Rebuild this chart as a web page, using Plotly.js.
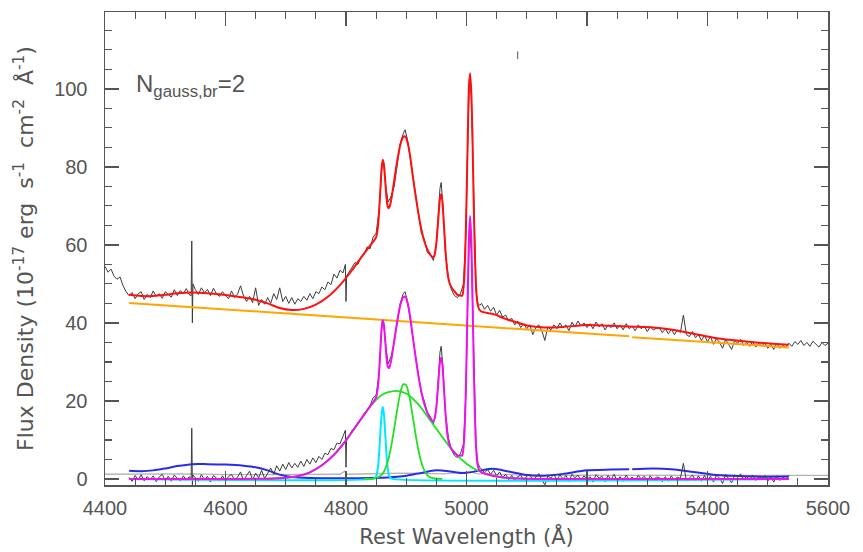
<!DOCTYPE html>
<html>
<head>
<meta charset="utf-8">
<script src="https://cdn.plot.ly/plotly-3.0.1.min.js"></script>
<style>html,body{margin:0;padding:0;background:#fff;}#chart{width:863px;height:552px;}</style>
</head>
<body>
<div id="chart"></div>
<script>
// ---- observed spectrum ----
const obsWl = [4400,4405,4410,4415,4420,4425,4430,4435,4440,4445,4450,4455,4460,4465,4470,4475,4480,4485,4490,4495,4500,4505,4510,4515,4520,4525,4530,4535,4540,4543,4544,4545,4546,4550,4555,4560,4565,4570,4575,4580,4585,4590,4595,4600,4605,4610,4615,4620,4625,4630,4635,4640,4645,4650,4655,4660,4665,4670,4675,4680,4685,4690,4695,4700,4705,4710,4715,4720,4725,4730,4735,4740,4745,4750,4755,4760,4765,4770,4775,4780,4785,4790,4795,4799,4800,4801,4805,4810,4815,4820,4825,4830,4835,4840,4845,4850,4855,4860,4863,4866,4870,4875,4880,4885,4890,4895,4898,4902,4906,4910,4915,4920,4925,4930,4935,4940,4945,4950,4953,4956,4958,4961,4965,4970,4975,4980,4985,4990,4995,4999,5002,5005,5008,5010,5012,5014,5016,5019,5022,5025,5030,5035,5040,5045,5050,5055,5060,5065,5070,5075,5080,5085,5090,5095,5100,5105,5110,5115,5120,5125,5130,5135,5140,5145,5150,5155,5160,5165,5170,5175,5180,5185,5190,5195,5200,5205,5210,5215,5220,5225,5230,5235,5240,5245,5250,5255,5260,5265,5270,5275,5280,5285,5290,5295,5300,5305,5310,5315,5320,5325,5330,5335,5340,5345,5350,5355,5360,5365,5370,5375,5380,5385,5390,5395,5400,5405,5410,5415,5420,5425,5430,5435,5440,5445,5450,5455,5460,5465,5470,5475,5480,5485,5490,5495,5500,5505,5510,5515,5520,5525,5530,5535,5540,5545,5550,5555,5560,5565,5570,5575,5580,5585,5590,5595,5600];
const obsFlux = [54.5,53.0,53.8,52.0,51.2,51.8,49.5,48.0,47.0,47.8,46.2,47.5,48.0,46.0,47.3,46.5,48.2,46.8,47.5,46.3,48.0,47.2,46.6,48.5,47.0,48.3,47.5,48.8,47.2,47.0,61.0,40.0,50.0,48.5,47.3,49.0,47.8,48.6,47.0,48.9,47.5,46.8,48.0,47.0,46.2,48.2,46.5,47.4,49.5,46.9,45.5,46.8,45.2,49.0,44.5,46.0,44.8,46.5,45.0,47.5,46.0,49.0,45.5,46.8,45.0,46.5,44.8,46.2,45.5,46.8,45.8,47.5,46.2,48.0,47.5,49.2,48.5,50.5,49.8,52.5,51.5,53.5,52.8,55.0,45.5,52.0,53.0,54.0,55.5,55.0,57.0,57.5,59.5,59.0,62.0,63.0,69.0,81.0,80.0,75.0,71.0,72.5,75.0,80.5,86.0,88.5,89.5,87.0,83.0,78.5,73.0,68.0,63.0,61.5,58.0,57.5,56.0,60.0,67.0,74.5,76.0,70.0,58.0,51.5,48.5,47.0,46.5,47.5,50.0,63.0,86.0,103.0,98.0,86.0,70.0,57.0,48.0,45.0,44.5,45.0,43.5,44.5,43.0,44.0,42.0,43.2,41.5,42.0,40.5,41.2,39.5,40.5,38.8,39.8,38.5,39.5,37.0,38.8,39.5,38.0,35.5,39.0,38.2,39.5,38.5,40.0,38.8,39.5,38.0,40.2,39.0,40.5,39.2,40.0,38.8,39.8,38.5,40.2,39.0,39.8,38.2,39.5,38.8,40.0,38.5,39.5,38.2,39.8,38.5,39.2,38.0,39.5,38.5,39.2,37.8,39.0,38.2,38.6,38.8,37.5,38.5,37.2,38.4,37.0,38.2,37.5,42.0,37.0,36.5,37.8,36.2,37.0,35.5,36.8,35.2,36.5,34.5,36.0,35.0,33.5,35.8,34.5,33.2,35.5,34.8,35.8,34.2,35.0,34.0,35.2,33.8,34.8,34.0,35.0,33.5,34.5,33.2,34.8,33.5,34.2,33.8,34.8,34.0,35.2,34.5,35.5,34.2,35.0,34.0,35.3,34.5,33.8,35.0,34.2,34.8];

// ---- error spectrum ----
const errWl = [4400,4440,4500,4545,4600,4700,4790,4798,4802,4860,4900,4960,5006,5020,5100,5200,5300,5400,5500,5600];
const errFlux = [1.2,1.2,1.15,1.3,1.1,1.1,1.2,2.0,1.2,1.4,1.5,1.3,1.8,1.3,1.0,0.95,0.95,0.9,0.9,0.9];

// ---- continuum (power law) ----
const contWl = [4440,5270,null,5275,5535];
const contFlux = [45.1,36.55,null,36.35,33.7];

// ---- Fe II template ----
const feWl = [4440,4460,4480,4500,4520,4545,4570,4600,4630,4650,4670,4690,4710,4740,4780,4820,4860,4890,4920,4950,4970,4995,5020,5044,5070,5100,5130,5160,5200,5240,5270,null,5275,5310,5345,5380,5410,5440,5480,5535];
const feFlux = [2.1,2.0,2.2,2.7,3.3,3.8,3.8,3.7,3.4,3.0,2.2,1.1,0.5,0.25,0.2,0.2,0.3,0.6,1.4,2.2,2.0,1.5,2.1,2.6,1.9,1.0,0.85,1.3,2.2,2.4,2.5,null,2.5,2.7,2.4,1.7,1.1,0.8,0.6,0.6];

// ---- total model ----
const totWl = [4440,4460,4480,4500,4520,4545,4570,4600,4630,4650,4670,4690,4710,4730,4750,4770,4790,4810,4830,4840,4845,4850,4853,4855,4857,4859,4861,4863,4865,4867,4869,4871,4873,4876,4880,4885,4890,4895,4899,4903,4907,4911,4915,4920,4925,4930,4935,4940,4944,4947,4950,4953,4956,4958,4960,4963,4966,4969,4972,4976,4980,4985,4990,4993,4996,4999,5002,5004,5006,5008,5010,5012,5014,5016,5018,5021,5025,5030,5040,5050,5060,5080,5100,5130,5160,5200,5240,5270,5310,5345,5380,5410,5440,5480,5535];
const totFlux = [47.2,46.9,46.9,47.2,47.6,47.8,47.6,47.15,46.5,45.95,45.0,43.8,43.3,43.6,44.7,46.7,49.7,53.5,57.8,59.8,60.8,62.0,64.7,68.7,74.1,79.4,81.8,80.5,76.75,72.5,70.0,69.4,70.05,72.4,76.5,81.5,85.6,87.7,87.7,85.7,82.2,77.5,73.2,68.2,64.05,60.95,58.85,57.45,56.8,57.4,60.55,66.2,71.9,73.0,71.0,63.9,56.7,52.25,50.1,48.9,48.1,47.2,47.0,46.95,50.8,64.1,87.0,100.5,104.0,99.0,87.2,70.4,57.1,48.9,45.15,43.5,42.9,42.7,42.4,42.0,41.3,40.3,39.35,38.84,38.98,39.47,39.26,39.05,38.84,38.18,37.12,36.21,35.6,34.99,34.42];

// ---- emission-line model (sum of lines) ----
const lineWl = [4440,4600,4660,4680,4700,4720,4740,4760,4780,4800,4820,4840,4845,4850,4853,4855,4857,4859,4861,4863,4865,4867,4869,4871,4873,4876,4880,4885,4890,4895,4899,4903,4907,4911,4915,4920,4925,4930,4935,4940,4944,4947,4950,4953,4956,4958,4960,4963,4966,4969,4972,4976,4980,4985,4990,4993,4996,4999,5002,5004,5006,5008,5010,5012,5014,5016,5018,5021,5025,5030,5040,5060,5080,5100,5130,5535];
const lineFlux = [0,0,0.04,0.12,0.3,0.75,1.7,3.5,6.2,9.9,14.3,18.6,19.6,20.9,23.6,27.6,33.0,38.3,40.7,39.4,35.7,31.5,29.0,28.4,29.0,31.3,35.4,40.4,44.5,46.6,46.6,44.6,41.0,36.2,31.8,26.6,22.4,19.2,17.0,15.5,14.8,15.4,18.5,24.2,30.0,31.1,29.2,22.1,15.0,10.6,8.6,7.5,6.8,6.0,6.0,6.0,9.9,23.2,46.8,61.5,67.4,61.2,46.2,29.3,16.0,7.8,4.0,2.3,1.7,1.4,0.95,0.4,0.15,0.05,0,0];

// ---- line-only spectrum (observed minus continuum) ----
const resWl = [4440,4445,4450,4455,4460,4465,4470,4475,4480,4485,4490,4495,4500,4505,4510,4515,4520,4525,4530,4535,4540,4543,4544,4545,4546,4550,4555,4560,4565,4570,4575,4580,4585,4590,4595,4600,4605,4610,4615,4620,4625,4630,4635,4640,4645,4650,4655,4660,4665,4670,4675,4680,4685,4690,4695,4700,4705,4710,4715,4720,4725,4730,4735,4740,4745,4750,4755,4760,4765,4770,4775,4780,4785,4790,4795,4799,4800,4801,4805,4810,4815,4820,4825,4830,4835,4840,4845,4850,4855,4860,4863,4866,4870,4875,4880,4885,4890,4895,4898,4902,4906,4910,4915,4920,4925,4930,4935,4940,4945,4950,4953,4956,4958,4961,4965,4970,4975,4980,4985,4990,4995,4999,5002,5005,5008,5010,5012,5014,5016,5019,5022,5025,5030,5035,5040,5045,5050,5055,5060,5065,5070,5075,5080,5085,5090,5095,5100,5105,5110,5115,5120,5125,5130,5135,5140,5145,5150,5155,5160,5165,5170,5175,5180,5185,5190,5195,5200,5205,5210,5215,5220,5225,5230,5235,5240,5245,5250,5255,5260,5265,5270,5275,5280,5285,5290,5295,5300,5305,5310,5315,5320,5325,5330,5335,5340,5345,5350,5355,5360,5365,5370,5375,5380,5385,5390,5395,5400,5405,5410,5415,5420,5425,5430,5435,5440,5445,5450,5455,5460,5465,5470,5475,5480,5485,5490,5495,5500,5505,5510,5515,5520,5525,5530,5535];
const resFlux = [0.4,-0.6,0.9,-0.3,1.1,-0.5,0.6,-0.2,0.8,-0.7,0.5,1.2,-0.4,0.7,-0.6,1.0,0.2,-0.5,0.8,-0.3,0.6,-0.2,13.0,-1.5,1.0,0.3,-0.6,1.1,-0.2,0.7,-0.8,0.9,0.1,-0.5,0.8,-0.4,0.6,1.2,-0.3,0.5,1.8,-0.5,0.9,2.0,-0.2,1.5,0.3,2.2,0.1,1.6,2.8,1.2,3.4,2.0,3.8,2.4,4.2,2.8,4.0,3.0,4.6,3.2,5.0,3.8,5.4,4.2,5.8,5.0,6.6,6.2,7.8,7.5,9.2,9.0,11.0,12.5,3.0,10.5,10.8,12.5,13.0,14.5,15.2,16.8,17.5,18.8,20.8,21.5,27.0,40.5,39.0,34.0,29.5,31.5,35.0,39.5,45.0,47.5,48.0,45.5,42.0,37.5,32.0,27.0,22.0,20.0,17.0,16.0,14.0,18.0,25.5,32.5,34.0,28.5,17.0,10.5,7.5,6.0,5.5,6.5,9.0,22.0,45.0,66.0,58.0,45.0,30.0,16.5,8.0,4.0,3.0,2.5,1.6,2.4,1.2,2.2,0.8,1.8,0.4,1.2,-0.2,0.9,-0.5,0.6,1.0,-0.3,0.7,1.2,-0.4,0.5,1.4,-0.2,-1.5,0.8,0.2,1.3,-0.3,1.1,0.0,0.9,-0.6,1.2,0.3,1.0,-0.4,0.8,-0.2,0.6,-0.8,1.1,0.2,0.7,-0.7,0.9,-0.1,1.2,-0.5,0.6,-0.6,1.0,-0.2,0.5,-0.5,0.9,0.0,0.7,-0.6,0.8,-0.3,0.5,0.4,-0.7,0.6,-0.6,0.8,-0.5,0.5,0.1,4.0,-0.5,0.3,1.0,-0.4,0.8,-0.6,0.9,-0.3,0.7,-0.8,1.0,0.2,-1.2,1.2,0.0,-1.0,1.0,0.4,1.3,-0.2,0.7,-0.3,1.0,-0.4,0.6,0.1,0.9,-0.6,0.5,-0.8,0.8,-0.4,0.4,0.0,0.9];

// ---- broad H-beta gaussians ----
const br1Wl = [4660,4680,4700,4720,4740,4760,4780,4800,4820,4840,4860,4884,4900,4920,4940,4960,4980,5000,5020,5040,5060,5080,5100,5120,5140];
const br1Flux = [0.04,0.12,0.3,0.75,1.7,3.5,6.2,9.9,14.3,18.6,21.6,22.6,21.9,19.1,15.0,10.7,6.8,3.9,2.04,0.95,0.4,0.15,0.05,0.02,0];
const br2Wl = [4830,4840,4850,4860,4865,4870,4875,4880,4885,4890,4895,4900,4905,4910,4915,4920,4925,4930,4935,4940,4950,4960];
const br2Flux = [0,0.02,0.18,1.17,2.5,4.85,8.35,12.9,17.8,22.0,24.3,24.0,21.3,16.8,11.9,7.55,4.28,2.18,0.99,0.40,0.05,0];

// ---- narrow H-beta ----
const nWl = [4440,4845,4850,4853,4855,4857,4859,4861,4863,4865,4867,4869,4872,4877,5535];
const nFlux = [0,0.01,0.6,3.0,6.7,11.8,16.5,18.5,16.5,11.8,6.7,3.0,0.6,0.01,0];

// ---- stray mark near top ----
const markWl = [5085,5085];
const markFlux = [107.6,109.6];

const xTicks = [4400,4600,4800,5000,5200,5400,5600];
const yTicks = [0,20,40,60,80,100];

const grey = '#555555';
const traces = [
  {x: errWl, y: errFlux, mode:'lines', line:{color:'#b4b4b4', width:1.3}},
  {x: obsWl, y: obsFlux, mode:'lines', line:{color:'#3c3c3c', width:1}},
  {x: markWl, y: markFlux, mode:'lines', line:{color:'#555', width:1}},
  {x: contWl, y: contFlux, mode:'lines', line:{color:'#ffa500', width:2}, connectgaps:false},
  {x: totWl, y: totFlux, mode:'lines', line:{color:'#ff1010', width:2, shape:'spline', smoothing:0.6}},
  {x: feWl, y: feFlux, mode:'lines', line:{color:'#2a2aee', width:2, shape:'spline', smoothing:0.8}, connectgaps:false},
  {x: resWl, y: resFlux, mode:'lines', line:{color:'#3c3c3c', width:1}},
  {x: nWl, y: nFlux, mode:'lines', line:{color:'#00e8ff', width:2, shape:'spline', smoothing:0.5}},
  {x: br1Wl, y: br1Flux, mode:'lines', line:{color:'#22e022', width:1.8, shape:'spline', smoothing:0.8}},
  {x: br2Wl, y: br2Flux, mode:'lines', line:{color:'#22e022', width:1.8, shape:'spline', smoothing:0.6}},
  {x: lineWl, y: lineFlux, mode:'lines', line:{color:'#ee10ee', width:2, shape:'spline', smoothing:0.6}}
];

const tickFont = {family:'Liberation Sans, Arial, sans-serif', size:20, color:grey};
const titleFont = {family:'DejaVu Sans, sans-serif', size:21, color:grey};

const axCommon = {
  showline:true, mirror:'ticks', linecolor:grey, linewidth:1.5,
  ticks:'inside', ticklen:14, tickwidth:1.3, tickcolor:grey,
  showgrid:false, zeroline:false, tickfont:tickFont
};

const layout = {
  width:863, height:552,
  margin:{l:105, r:35, t:12, b:67},
  paper_bgcolor:'#fff', plot_bgcolor:'#fff',
  showlegend:false,
  xaxis: Object.assign({}, axCommon, {
    range:[4400,5600], tickmode:'array', tickvals:xTicks, ticktext:xTicks.map(String),
    ticklabelstandoff:4,
    minor:{dtick:50, ticks:'inside', ticklen:7, tickcolor:grey, tickwidth:1.2},
    title:{text:'Rest Wavelength (Å)', font:titleFont, standoff:12}
  }),
  yaxis: Object.assign({}, axCommon, {
    range:[-1.55,119.7], tickmode:'array', tickvals:yTicks, ticktext:yTicks.map(String),
    ticklabelstandoff:12,
    minor:{dtick:5, ticks:'inside', ticklen:7, tickcolor:grey, tickwidth:1.2},
    title:{text:'Flux Density (10<sup>-17</sup> erg  s<sup>-1</sup>  cm<sup>-2</sup>  Å<sup>-1</sup>)', font:{family:'DejaVu Sans, sans-serif', size:22, color:grey}, standoff:14}
  }),
  annotations:[{
    xref:'paper', yref:'paper', x:0.04, y:0.845, xanchor:'left', yanchor:'middle',
    text:'N<sub>gauss,br</sub>=2', showarrow:false,
    font:{family:'Liberation Sans, Arial, sans-serif', size:24, color:grey}
  }]
};

Plotly.newPlot('chart', traces, layout, {displayModeBar:false, staticPlot:true});
</script>
</body>
</html>
